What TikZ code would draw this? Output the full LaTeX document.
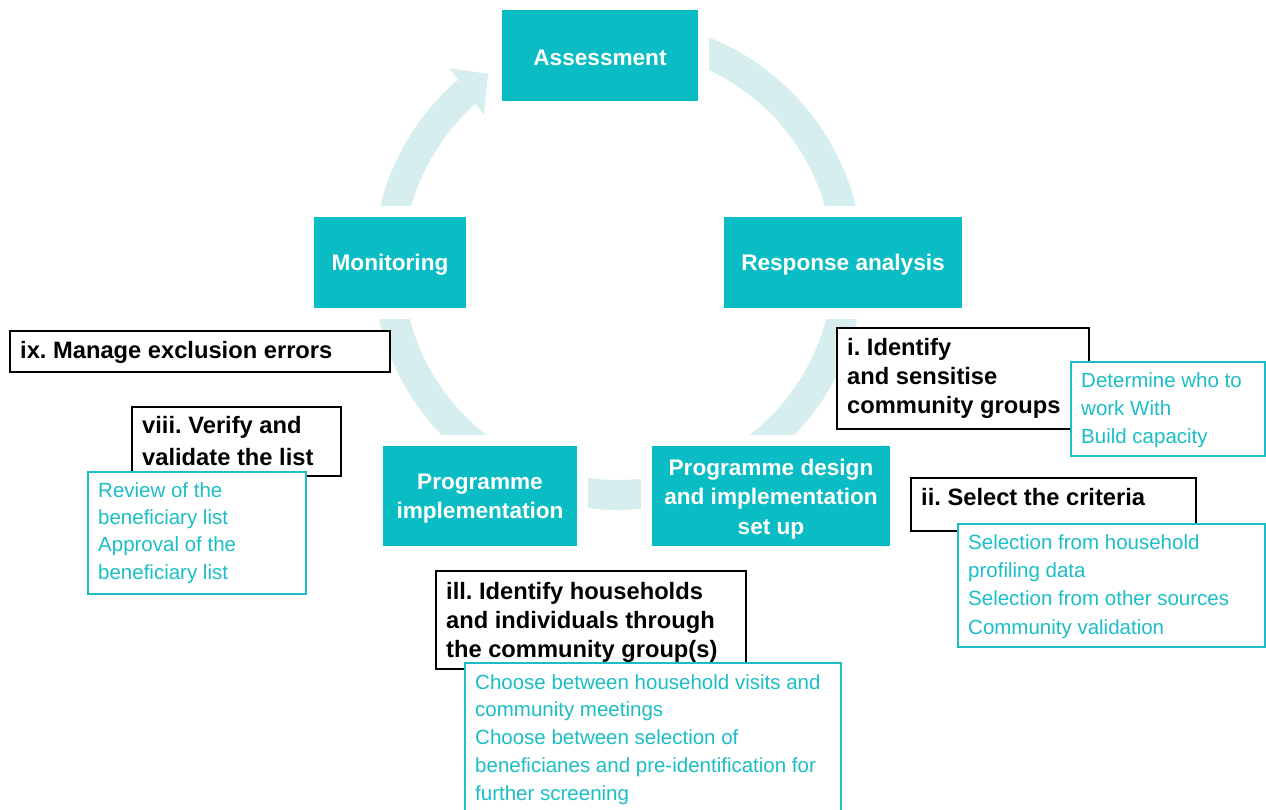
\documentclass[tikz,border=0pt]{standalone}
\usepackage{fontspec}
\setmainfont{Liberation Sans}
\frenchspacing
\definecolor{stagefill}{HTML}{0ABCC3}
\definecolor{ringc}{HTML}{D6EEED}
\definecolor{tealt}{HTML}{1BBEC6}
\tikzset{
  stage/.style={fill=stagefill, preaction={draw=white, line width=22pt}, inner sep=0pt, outer sep=0pt, anchor=north west},
  stagetext/.style={text=white, font=\fontsize{22.6}{29}\selectfont\bfseries, align=center, inner sep=0pt, yshift=-2.5pt},
  blackbox/.style={draw=black, line width=2.5pt, fill=white, inner sep=0pt, outer sep=0pt, anchor=north west},
  tealbox/.style={draw=tealt, line width=2.5pt, fill=white, inner sep=0pt, outer sep=0pt, anchor=north west},
  headtext/.style={inner sep=0pt, anchor=base west, align=left, font=\fontsize{23.7}{29}\selectfont\bfseries},
  subtext/.style={inner sep=0pt, anchor=base west, align=left, text=tealt, font=\fontsize{20.5}{28}\selectfont}
}
\begin{document}
\begin{tikzpicture}[x=1pt,y=-1pt]
\useasboundingbox (0,0) rectangle (1266,809);
\clip (0,0) rectangle (1266,809);
% ring
\draw[ringc, line width=30pt] (618,35) arc[start angle=-90, end angle=229, radius=230];
\fill[ringc] (449,68) -- (488,74) -- (484,115) -- cycle;
% stages
\node[stage, minimum width=196pt, minimum height=91pt] (assess) at (502,10) {};
\node[stagetext] (assesstext) at (assess.center) {Assessment};
\node[stage, minimum width=238pt, minimum height=91pt] (resp) at (724,217) {};
\node[stagetext] (resptext) at (resp.center) {Response analysis};
\node[stage, minimum width=152pt, minimum height=91pt] (monit) at (314,217) {};
\node[stagetext] (monittext) at (monit.center) {Monitoring};
\node[stage, minimum width=194pt, minimum height=100pt] (impl) at (383,446) {};
\node[stagetext] (impltext) at (impl.center) {Programme\\implementation};
\node[stage, minimum width=238pt, minimum height=100pt] (design) at (652,446) {};
\node[stagetext, font=\fontsize{22.6}{29.5}\selectfont\bfseries, yshift=-0.5pt] (designtext) at (design.center) {Programme design\\and implementation\\set up};
% ix
\node[blackbox, minimum width=380pt, minimum height=41pt] (ixbox) at (10,331) {};
\node[headtext] (ixtext) at (20,358) {ix. Manage exclusion errors};
% viii
\node[blackbox, minimum width=209pt, minimum height=69pt] (viiibox) at (132,407) {};
\node[headtext, font=\fontsize{23.7}{32}\selectfont\bfseries] (viiitext) at (142,465) {viii. Verify and\\validate the list};
\node[tealbox, minimum width=218pt, minimum height=122pt] (viiisub) at (88,472) {};
\node[subtext, font=\fontsize{20.5}{27.3}\selectfont] (viiisubtext) at (98,579) {Review of the\\beneficiary list\\Approval of the\\beneficiary list};
% i
\node[blackbox, minimum width=252pt, minimum height=101pt] (ibox) at (837,328) {};
\node[headtext] (itext) at (847,413) {i. Identify\\and sensitise\\community groups};
\node[tealbox, minimum width=194pt, minimum height=94pt] (isub) at (1071,362) {};
\node[subtext] (isubtext) at (1081,443) {Determine who to\\work With\\Build capacity};
% ii
\node[blackbox, minimum width=285pt, minimum height=53pt] (iibox) at (911,478) {};
\node[headtext] (iitext) at (921,505) {ii. Select the criteria};
\node[tealbox, minimum width=307pt, minimum height=123pt] (iisub) at (958,524) {};
\node[subtext, font=\fontsize{20.5}{28.3}\selectfont] (iisubtext) at (968,634) {Selection from household\\profiling data\\Selection from other sources\\Community validation};
% iii
\node[blackbox, minimum width=310pt, minimum height=98pt] (iiibox) at (436,571) {};
\node[headtext] (iiitext) at (446,657) {ill. Identify households\\and individuals through\\the community group(s)};
\node[tealbox, minimum width=376pt, minimum height=170pt] (iiisub) at (465,663) {};
\node[subtext, font=\fontsize{20.5}{27.7}\selectfont] (iiisubtext) at (475,800) {Choose between household visits and\\community meetings\\Choose between selection of\\beneficianes and pre-identification for\\further screening};
\end{tikzpicture}
\end{document}
